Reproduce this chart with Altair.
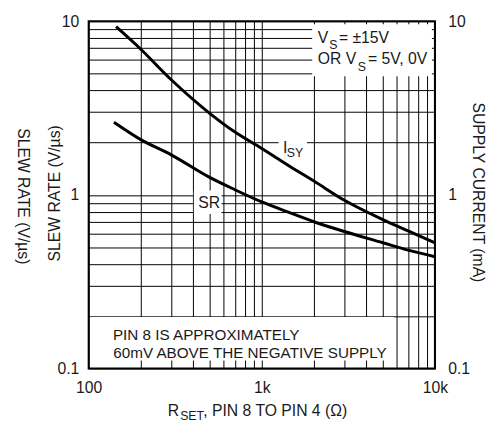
import altair as alt
import pandas as pd

# ---- data ----
r_sr = [140, 200, 300, 500, 700, 1000, 1500, 2000, 3000, 5000, 7000, 10000]
slew_rate = [2.62, 2.08, 1.70, 1.26, 1.07, 0.91, 0.78, 0.70, 0.615, 0.53, 0.48, 0.44]

r_isy = [144, 200, 300, 500, 700, 1000, 1500, 2000, 3000, 5000, 7000, 10000]
supply_current = [9.3, 6.9, 4.6, 2.95, 2.3, 1.85, 1.43, 1.2, 0.93, 0.72, 0.62, 0.53]

x_ticks = [100, 200, 300, 400, 500, 600, 700, 800, 900,
           1000, 2000, 3000, 4000, 5000, 6000, 7000, 8000, 9000, 10000]
y_ticks = [0.1, 0.2, 0.3, 0.4, 0.5, 0.6, 0.7, 0.8, 0.9,
           1, 2, 3, 4, 5, 6, 7, 8, 9, 10]

# white backgrounds behind annotations (data space)
box_x1 = [102, 1955, 1250, 405]
box_x2 = [5800, 9610, 1825, 585]
box_y1 = [0.111, 4.82, 1.61, 0.775]
box_y2 = [0.198, 9.62, 2.09, 1.06]

# in-plot annotation pieces (data space anchors)
ann_text = ["V", "S", "= \u00b115V", "OR V", "S", "= 5V, 0V",
            "I", "SY", "SR",
            "PIN 8 IS APPROXIMATELY", "60mV ABOVE THE NEGATIVE SUPPLY"]
ann_x = [2108, 2450, 2790, 2108, 3581, 4100, 1325, 1396, 430, 138.1, 138.7]
ann_y = [7.506, 6.897, 7.506, 5.658, 5.195, 5.658, 1.748, 1.653, 0.8386, 0.1466, 0.1144]
ann_size = [16, 12.5, 16, 16, 12.5, 16, 16, 12.5, 16, 15.5, 15.5]

FONT = "Liberation Sans"
INK = "#1a1a1a"

sr_df = pd.DataFrame({"r": r_sr, "v": slew_rate})
isy_df = pd.DataFrame({"r": r_isy, "v": supply_current})
box_df = pd.DataFrame({"x1": box_x1, "x2": box_x2, "y1": box_y1, "y2": box_y2})
ann_df = pd.DataFrame({"x": ann_x, "y": ann_y, "t": ann_text, "s": ann_size})
one = pd.DataFrame({"a": [0]})

xs = alt.Scale(type="log", domain=[100, 10000], nice=False)
ys = alt.Scale(type="log", domain=[0.1, 10], nice=False)

x_axis = alt.Axis(values=x_ticks, grid=True, ticks=False, domain=False,
                  labelPadding=11, labelFlush=False, labelOverlap=False, title=None,
                  labelExpr="datum.value == 100 ? '100' : datum.value == 1000 ? '1k' : datum.value == 10000 ? '10k' : ''")
y_axis_left = alt.Axis(values=y_ticks, grid=True, ticks=False, domain=False,
                       labelPadding=10, labelOverlap=False, title=None,
                       labelExpr="datum.value == 0.1 ? '0.1' : datum.value == 1 ? '1' : datum.value == 10 ? '10' : ''")
y_axis_right = alt.Axis(values=y_ticks, grid=False, ticks=False, domain=False, orient="right",
                        labelPadding=13, labelOverlap=False, title=None,
                        labelExpr="datum.value == 0.1 ? '0.1' : datum.value == 1 ? '1' : datum.value == 10 ? '10' : ''")

boxes = alt.Chart(box_df).mark_rect(color="white").encode(
    x=alt.X("x1:Q", scale=xs, axis=x_axis),
    x2="x2:Q",
    y=alt.Y("y1:Q", scale=ys, axis=y_axis_left),
    y2="y2:Q",
)

sr_line = alt.Chart(sr_df).mark_line(color="black", strokeWidth=3, interpolate="monotone").encode(
    x=alt.X("r:Q", scale=xs, axis=None),
    y=alt.Y("v:Q", scale=ys, axis=None),
)
isy_line = alt.Chart(isy_df).mark_line(color="black", strokeWidth=3, interpolate="monotone").encode(
    x=alt.X("r:Q", scale=xs, axis=None),
    y=alt.Y("v:Q", scale=ys, axis=y_axis_right),
)

ann = alt.Chart(ann_df).mark_text(align="left", baseline="alphabetic", font=FONT, color=INK).encode(
    x=alt.X("x:Q", scale=xs, axis=None),
    y=alt.Y("y:Q", scale=ys, axis=None),
    text="t:N",
    size=alt.Size("s:Q", scale=None),
)

def title_piece(txt, x, y, size=16, angle=0, align="left", baseline="alphabetic"):
    return alt.Chart(one).mark_text(text=txt, font=FONT, fontSize=size, color=INK,
                                    angle=angle, align=align, baseline=baseline).encode(
        x=alt.value(x), y=alt.value(y))

titles = [
    title_piece("R", 80.4, 401),
    title_piece("SET", 93, 405.5, size=12.5),
    title_piece(", PIN 8 TO PIN 4 (\u03a9)", 116.5, 401),
    title_piece("SLEW RATE (V/\u00b5s)", -34.5, 175, angle=270, align="center", baseline="middle"),
    title_piece("SLEW RATE (V/\u00b5s)", -66.5, 178, angle=90, align="center", baseline="middle"),
    title_piece("SUPPLY CURRENT (mA)", 396, 174, angle=90, align="center", baseline="middle"),
]

chart = alt.layer(boxes, sr_line, isy_line, ann, *titles).resolve_axis(
    x="independent", y="independent"
).properties(
    width=352, height=353,
    autosize=alt.AutoSizeParams(type="none"),
    padding={"left": 82, "top": 10, "right": 56, "bottom": 53},
).configure_view(
    stroke="black", strokeWidth=2
).configure_axis(
    labelFont=FONT, labelFontSize=16, labelColor=INK,
    gridColor="black", gridOpacity=1, gridWidth=1,
)

chart.save("out.html", embed_options={"renderer": "svg", "actions": False})
